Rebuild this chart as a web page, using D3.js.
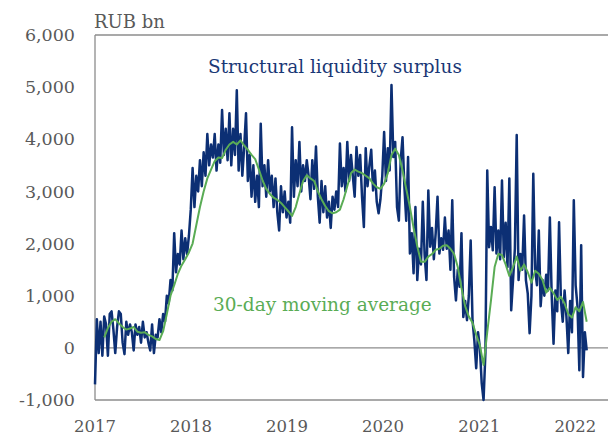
<!DOCTYPE html>
<html lang="en">
<head>
<meta charset="UTF-8">
<title>Structural liquidity surplus</title>
<script src="https://d3js.org/d3.v7.min.js"></script>
<style>
  body { margin: 0; background: #fff; }
  svg { display: block; }
  text { font-family: Georgia, "DejaVu Serif", serif; }
</style>
</head>
<body>
<svg width="610" height="435"></svg>
<script>
// weekly structural liquidity surplus, RUB bn, starting first week of 2017
const surplusStart = "2017-01-01";
const surplus = [
  -700, 550, -100, 500, -150, 600, 450, -150, 650, 700,
  350, -100, 400, 700, 650, 100, -120, 500, 250, 450,
  300, -50, 450, 250, 400, 100, 500, 200, 300, 100,
  -50, 450, -100, 250, 200, 550, 300, 650, 500, 1000,
  850, 1300, 1100, 2200, 1450, 1800, 1600, 2250, 1700, 2100,
  1800, 2150, 2650, 3450, 2700, 3300, 3000, 3600, 3100, 3750,
  3300, 4100, 3500, 3900, 3650, 4100, 3400, 3900, 3550, 4560,
  3700, 4200, 3600, 4500, 3500, 4200, 3700, 4940, 3400, 4100,
  3300, 3850, 4500, 3200, 3700, 2900, 3500, 2800, 3300, 2700,
  4300, 3100, 3500, 2900, 3600, 3000, 3300, 2700, 3250, 2600,
  2250, 3100, 2600, 3000, 2500, 2800, 2400, 4230, 2900, 3600,
  3100, 3950, 3000, 3500, 3200, 3600, 3300, 2850, 3600, 3050,
  3860, 2900, 2400, 3200, 2600, 3100, 2500, 2800, 2300, 2900,
  2650, 3000, 2700, 3920, 3100, 3450, 3000, 3950, 3200, 3700,
  3300, 2900, 3850, 3300, 3700, 2900, 2320, 3830, 3100, 3500,
  3800, 3020, 3400, 2800, 2580, 2850, 3300, 4140, 3200, 3830,
  3400, 5040, 3660, 3950, 2700, 2440, 3600, 4040, 3100, 2440,
  3660, 1810, 2200, 1430, 2700, 1300, 1900, 1600, 2800, 1780,
  1300, 3020, 1940, 2300, 1700, 2200, 2900, 1810, 2100, 1880,
  2500, 1900, 2250, 1500, 2830, 1360, 910, 1500, 1170, 2200,
  590, 900, 530, 1000, 2060, 530, 140, -390, 300, 0,
  -680, -1000, -100, 3400, 1930, 2320, 1870, 3080, 1810, 2250,
  1700, 3210, 1740, 2400, 1550, 3250, 720, 1300, 1900, 4080,
  1300, 1800, 1500, 2540, 1300, 1040, 280, 1000, 3340, 1500,
  1200, 2250, 800, 1300, 1000, 1400, 1100, 2500, 1000, 80,
  1100, 700, 2410, 900, 500, 1100, 600, -100, 900, 300,
  2830, 1200, 800, -430, 1970, -560, 300, -50
];

// 30-day moving average, read every two weeks from week 5
const avgStartWeek = 5;
const avgStepWeeks = 2;
const movingAvg = [
  200, 380, 500, 550, 470, 400, 350, 370, 400, 310,
  290, 300, 250, 220, 170, 150, 320, 650, 1000, 1200,
  1420, 1580, 1700, 1830, 2000, 2350, 2700, 3000, 3250, 3420,
  3580, 3650, 3640, 3800, 3900, 3950, 3900, 3980, 3880, 3800,
  3700, 3620, 3420, 3210, 3050, 2950, 2880, 2840, 2780, 2700,
  2620, 2530, 2700, 2960, 3200, 3310, 3250, 3200, 3000, 2850,
  2720, 2620, 2580, 2600, 2650, 2850, 3100, 3350, 3420, 3380,
  3350, 3300, 3250, 3150, 3080, 3050, 3150, 3350, 3700, 3820,
  3700, 3400, 3050, 2700, 2300, 1950, 1650, 1650, 1750, 1800,
  1880, 1900, 1960, 1970, 1900, 1800, 1550, 1150, 800, 600,
  480, 250, 50, -330, 300, 900, 1550, 1800, 1780, 1600,
  1380, 1550, 1750, 1480, 1600, 1450, 1250, 1480, 1420, 1300,
  1060, 1150, 1050, 920, 980, 850, 650, 580, 780, 700,
  880, 500
];

const yTicks = [-1000, 0, 1000, 2000, 3000, 4000, 5000, 6000];
const yearTicks = [2017, 2018, 2019, 2020, 2021, 2022];

const svg = d3.select("svg");
const plotLeft = 95, plotRight = 608, plotTop = 35, plotBottom = 400;

const start = d3.timeParse("%Y-%m-%d")(surplusStart);
const surplusData = surplus.map((v, i) => ({ date: d3.timeWeek.offset(start, i), value: v }));
const avgData = movingAvg.map((v, j) => ({
  date: d3.timeWeek.offset(start, avgStartWeek + j * avgStepWeeks), value: v
}));

const x = d3.scaleTime()
  .domain([new Date(2017, 0, 1), new Date(2022, 4, 5)])
  .range([plotLeft, plotRight]);
const y = d3.scaleLinear().domain([-1000, 6000]).range([plotBottom, plotTop]);

const axisColor = "#8c8c8c";
const labelColor = "#595959";

// frame lines
const frame = svg.append("g").attr("stroke", axisColor).attr("stroke-width", 1.3);
[6000, 0, -1000].forEach(v => {
  frame.append("line")
    .attr("x1", plotLeft).attr("x2", plotRight)
    .attr("y1", y(v)).attr("y2", y(v));
});
frame.append("line")
  .attr("x1", plotLeft).attr("x2", plotLeft)
  .attr("y1", plotTop).attr("y2", plotBottom);

// y axis labels
svg.append("g").selectAll("text")
  .data(yTicks)
  .join("text")
  .attr("x", 75)
  .attr("y", d => y(d))
  .attr("dy", "0.35em")
  .attr("text-anchor", "end")
  .attr("fill", labelColor)
  .attr("font-size", 17.5)
  .text(d => d3.format(",")(d).replace("−", "-"));

// x axis labels
svg.append("g").selectAll("text")
  .data(yearTicks)
  .join("text")
  .attr("x", d => x(new Date(d, 0, 1)))
  .attr("y", 432)
  .attr("text-anchor", "middle")
  .attr("fill", labelColor)
  .attr("font-size", 16.5)
  .text(d => d);

svg.append("text")
  .attr("x", 94).attr("y", 28)
  .attr("fill", labelColor)
  .attr("font-size", 18)
  .text("RUB bn");

const line = d3.line().x(d => x(d.date)).y(d => y(d.value));

svg.append("path")
  .datum(surplusData)
  .attr("fill", "none")
  .attr("stroke", "#0c2f74")
  .attr("stroke-width", 2.5)
  .attr("stroke-linejoin", "round")
  .attr("d", line);

svg.append("path")
  .datum(avgData)
  .attr("fill", "none")
  .attr("stroke", "#5aac55")
  .attr("stroke-width", 2)
  .attr("stroke-linejoin", "round")
  .attr("d", line);

// fit a label to the width it takes in the original
function fit(sel, width) {
  const w = sel.node().getComputedTextLength();
  const size = parseFloat(sel.attr("font-size"));
  sel.attr("font-size", size * width / w);
}

const t1 = svg.append("text")
  .attr("x", 208).attr("y", 73)
  .attr("fill", "#1a3876")
  .attr("font-size", 18)
  .text("Structural liquidity surplus");
fit(t1, 254);

const t2 = svg.append("text")
  .attr("x", 213).attr("y", 311)
  .attr("fill", "#5aac55")
  .attr("font-size", 18)
  .text("30-day moving average");
fit(t2, 219);
</script>
</body>
</html>
